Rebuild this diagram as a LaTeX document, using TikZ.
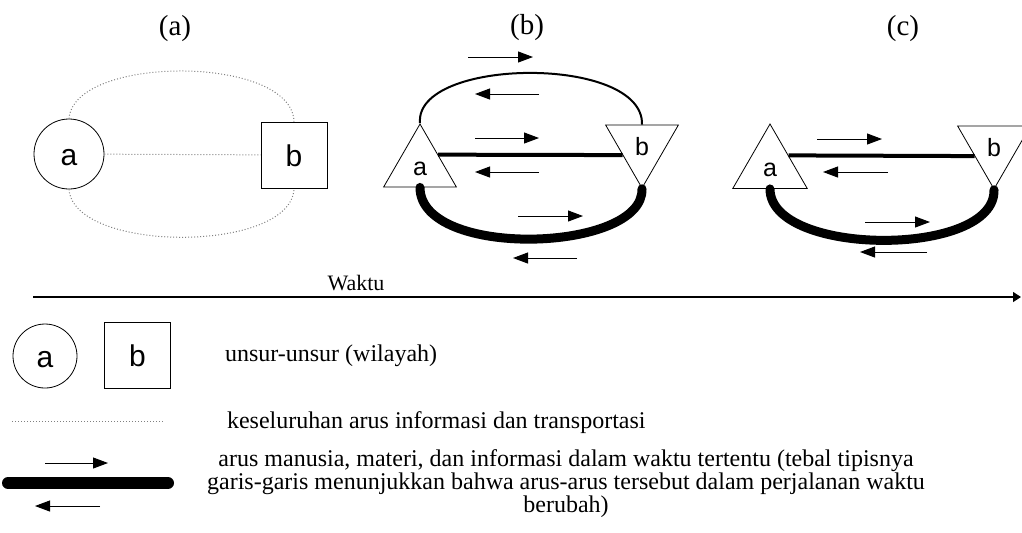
\documentclass[tikz,border=0pt]{standalone}
\usepackage{fontspec}
\setmainfont{Liberation Serif}
\newfontfamily\sansf{Liberation Sans}
\usetikzlibrary{arrows.meta, shapes.geometric}

\begin{document}
\begin{tikzpicture}[x=0.5pt, y=-0.5pt]

	\tikzstyle{unsur}=[draw, inner sep=0pt, text height=11pt, text depth=0pt, font=\sansf\fontsize{15}{15}\selectfont]
	\tikzstyle{bulat}=[unsur, circle, minimum size=35pt]
	\tikzstyle{kotak}=[unsur, rectangle, minimum size=33pt]
	\tikzstyle{segitiga}=[draw, regular polygon, regular polygon sides=3, minimum size=42pt, inner sep=0pt, text height=9pt, text depth=0pt, font=\sansf\fontsize{12.5}{12.5}\selectfont]
	\tikzstyle{terbalik}=[segitiga, shape border rotate=180]
	\tikzstyle{tipis}=[gray, densely dotted, line width=0.5pt]
	\tikzstyle{panah}=[-{Triangle[length=7.5pt, width=5.5pt]}, line width=0.5pt]
	\tikzstyle{judul}=[font=\fontsize{14.5}{14.5}\selectfont]
	\tikzstyle{teks}=[font=\fontsize{12}{11.5}\selectfont]

	\useasboundingbox (0,0) rectangle (1022,532);

	\coordinate (j_a) at (175,29);
	\coordinate (j_b) at (527,28);
	\coordinate (j_c) at (903,29);

	\coordinate (u_a) at (69,154); % PANEL A
	\coordinate (u_b) at (294,155); % PANEL A
	\coordinate (ta_b) at (420,166); % PANEL B
	\coordinate (tb_b) at (642,146); % PANEL B
	\coordinate (ta_c) at (770,167); % PANEL C
	\coordinate (tb_c) at (994,147); % PANEL C

	\node[judul] (j_a) at (j_a) {(a)};
	\node[judul] (j_b) at (j_b) {(b)};
	\node[judul] (j_c) at (j_c) {(c)};

	\node[bulat] (u_a) at (u_a) {a}; % PANEL A
	\node[kotak] (u_b) at (u_b) {b}; % PANEL A
	\node[segitiga] (ta_b) at (ta_b) {a}; % PANEL B
	\node[terbalik] (tb_b) at (tb_b) {b}; % PANEL B
	\node[segitiga, minimum size=43pt] (ta_c) at (ta_c) {a}; % PANEL C
	\node[terbalik] (tb_c) at (tb_c) {b}; % PANEL C

	%%%%%%%%%%%%%%%%%%%%%%%%%%%%%%%%%
	%%%%%%% PANEL A %%%%%%%%
	\draw[tipis] (u_a) -- (u_b);
	\draw[tipis] (u_a.north) .. controls +(5,-64) and +(-2,-67) .. (u_b.north);
	\draw[tipis] (u_a.south) .. controls +(5,64) and +(-2,65) .. (u_b.south);
	%%%%%%%%%%%%%%%%%%%%%%%%%%%%%%%%%

	%%%%%%%%%%%%%%%%%%%%%%%%%%%%%%%%%
	%%%%%%% PANEL B %%%%%%%%
	\draw[line width=1pt] (ta_b.corner 1) .. controls +(-6,-66) and +(2,-70) .. (tb_b.north);
	\draw[line width=2pt] (ta_b.32) -- (tb_b.205);
	\draw[line width=4.5pt, line cap=round] (ta_b.south) .. controls +(0,72) and +(2,64) .. (tb_b.south);

	\coordinate (ka_b1) at (468,57);
	\coordinate (ka_b1e) at (533,57);
	\coordinate (ki_b1) at (539,94);
	\coordinate (ki_b1e) at (475,94);
	\coordinate (ka_b2) at (475,138);
	\coordinate (ka_b2e) at (539,138);
	\coordinate (ki_b2) at (539,172);
	\coordinate (ki_b2e) at (475,172);
	\coordinate (ka_b3) at (518,216);
	\coordinate (ka_b3e) at (583,216);
	\coordinate (ki_b3) at (577,258);
	\coordinate (ki_b3e) at (513,258);

	\draw[panah] (ka_b1) -- (ka_b1e);
	\draw[panah] (ki_b1) -- (ki_b1e);
	\draw[panah] (ka_b2) -- (ka_b2e);
	\draw[panah] (ki_b2) -- (ki_b2e);
	\draw[panah] (ka_b3) -- (ka_b3e);
	\draw[panah] (ki_b3) -- (ki_b3e);
	%%%%%%%%%%%%%%%%%%%%%%%%%%%%%%%%%

	%%%%%%%%%%%%%%%%%%%%%%%%%%%%%%%%%
	%%%%%%% PANEL C %%%%%%%%
	\draw[line width=2pt] (ta_c.32) -- (tb_c.205);
	\draw[line width=4.5pt, line cap=round] (ta_c.south) .. controls +(0,68) and +(2,68) .. (tb_c.south);

	\coordinate (ka_c2) at (817,139);
	\coordinate (ka_c2e) at (882,139);
	\coordinate (ki_c2) at (888,172);
	\coordinate (ki_c2e) at (823,172);
	\coordinate (ka_c3) at (865,222);
	\coordinate (ka_c3e) at (930,222);
	\coordinate (ki_c3) at (927,252);
	\coordinate (ki_c3e) at (860,252);

	\draw[panah] (ka_c2) -- (ka_c2e);
	\draw[panah] (ki_c2) -- (ki_c2e);
	\draw[panah] (ka_c3) -- (ka_c3e);
	\draw[panah] (ki_c3) -- (ki_c3e);
	%%%%%%%%%%%%%%%%%%%%%%%%%%%%%%%%%

	%%%%%%%%%%%%%%%%%%%%%%%%%%%%%%%%%
	%%%%%%% WAKTU %%%%%%%%
	\coordinate (w_0) at (33,297);
	\coordinate (w_1) at (1021,297);
	\draw[-{Triangle[length=4pt, width=5pt]}, line width=0.6pt] (w_0) -- (w_1);
	\node[font=\fontsize{11}{11}\selectfont] (waktu) at (356,283) {Waktu};
	%%%%%%%%%%%%%%%%%%%%%%%%%%%%%%%%%

	%%%%%%%%%%%%%%%%%%%%%%%%%%%%%%%%%
	%%%%%%% KETERANGAN %%%%%%%%
	\node[bulat, minimum size=32pt] (k_a) at (45,356) {a};
	\node[kotak] (k_b) at (137.5,355.5) {b};
	\node[teks, anchor=west] (k_1) at (218,356) {unsur-unsur (wilayah)};

	\coordinate (k_t0) at (12,421);
	\coordinate (k_t1) at (165,421);
	\draw[tipis] (k_t0) -- (k_t1);
	\node[teks, anchor=west] (k_2) at (220,423) {keseluruhan arus informasi dan transportasi};

	\coordinate (k_ka) at (45,463);
	\coordinate (k_kae) at (108,463);
	\coordinate (k_l0) at (8,483);
	\coordinate (k_l1) at (168,483);
	\coordinate (k_ki) at (100,506);
	\coordinate (k_kie) at (35,506);
	\draw[panah] (k_ka) -- (k_kae);
	\draw[line width=6pt, line cap=round] (k_l0) -- (k_l1);
	\draw[panah] (k_ki) -- (k_kie);
	\node[teks, align=center] (k_3) at (566,484) {arus manusia, materi, dan informasi dalam waktu tertentu (tebal tipisnya\\garis-garis menunjukkan bahwa arus-arus tersebut dalam perjalanan waktu\\berubah)};
	%%%%%%%%%%%%%%%%%%%%%%%%%%%%%%%%%
\end{tikzpicture}
\end{document}
